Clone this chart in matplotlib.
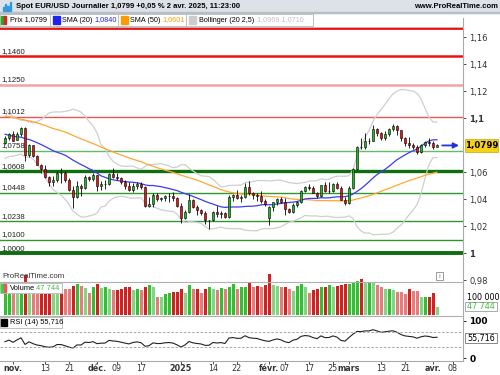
import numpy as np
import pandas as pd
import matplotlib
matplotlib.use("Agg")
import matplotlib.pyplot as plt
from matplotlib.patches import Rectangle

# closes before the visible window (needed for SMA 50 / Bollinger at the left edge)
prev_close = [1.1077, 1.1129, 1.1150, 1.1112, 1.1193, 1.1160, 1.1183, 1.1119, 1.1076, 1.1047,
              1.1073, 1.1045, 1.1088, 1.1111, 1.1083, 1.1026, 1.1018, 1.1011, 1.1075, 1.1075,
              1.1131, 1.1114, 1.1118, 1.1163, 1.1163, 1.1110, 1.1180, 1.1133, 1.1178, 1.1163, 1.1135,
              1.1068, 1.1045, 1.1032, 1.0975, 1.0975, 1.0978, 1.0940, 1.0935, 1.0937, 1.0910,
              1.0891, 1.0862, 1.0832, 1.0866, 1.0817, 1.0797, 1.0782, 1.0827, 1.0797, 1.0814, 1.0816]

# daily candles, 30 oct. 2024 -> 2 avr. 2025
opens = [1.0816, 1.0855, 1.0884, 1.0840, 1.0881, 1.0930, 1.0728, 1.0800, 1.0720, 1.0655,
         1.0623, 1.0565, 1.0530, 1.0540, 1.0597, 1.0596, 1.0543, 1.0472, 1.0417, 1.0495,
         1.0487, 1.0567, 1.0553, 1.0577, 1.0498, 1.0510, 1.0513, 1.0587, 1.0567, 1.0555,
         1.0527, 1.0496, 1.0467, 1.0500, 1.0513, 1.0489, 1.0352, 1.0363, 1.0430, 1.0405,
         1.0406, 1.0422, 1.0427, 1.0412, 1.0354, 1.0265, 1.0308, 1.0392, 1.0342, 1.0318,
         1.0300, 1.0243, 1.0245, 1.0307, 1.0292, 1.0300, 1.0272, 1.0418, 1.0432, 1.0410,
         1.0414, 1.0494, 1.0445, 1.0430, 1.0423, 1.0389, 1.0260, 1.0345, 1.0378, 1.0403,
         1.0380, 1.0328, 1.0306, 1.0361, 1.0383, 1.0464, 1.0491, 1.0482, 1.0446, 1.0421,
         1.0503, 1.0460, 1.0465, 1.0513, 1.0485, 1.0398, 1.0376, 1.0484, 1.0625, 1.0790,
         1.0785, 1.0833, 1.0833, 1.0919, 1.0889, 1.0852, 1.0882, 1.0922, 1.0945, 1.0910,
         1.0853, 1.0816, 1.0802, 1.0790, 1.0753, 1.0800, 1.0828, 1.0817, 1.0791]
highs = [1.0870, 1.0888, 1.0905, 1.0900, 1.0937, 1.0936, 1.0810, 1.0805, 1.0730, 1.0665,
         1.0653, 1.0575, 1.0570, 1.0608, 1.0630, 1.0610, 1.0555, 1.0496, 1.0533, 1.0515,
         1.0580, 1.0575, 1.0597, 1.0580, 1.0535, 1.0545, 1.0595, 1.0630, 1.0595, 1.0565,
         1.0540, 1.0530, 1.0520, 1.0525, 1.0530, 1.0500, 1.0415, 1.0445, 1.0445, 1.0418,
         1.0433, 1.0445, 1.0455, 1.0420, 1.0375, 1.0320, 1.0437, 1.0405, 1.0360, 1.0330,
         1.0315, 1.0250, 1.0315, 1.0350, 1.0310, 1.0305, 1.0435, 1.0440, 1.0470, 1.0430,
         1.0522, 1.0533, 1.0455, 1.0445, 1.0465, 1.0405, 1.0350, 1.0380, 1.0410, 1.0415,
         1.0410, 1.0335, 1.0372, 1.0390, 1.0470, 1.0500, 1.0510, 1.0495, 1.0455, 1.0505,
         1.0528, 1.0528, 1.0520, 1.0530, 1.0495, 1.0415, 1.0495, 1.0630, 1.0797, 1.0854,
         1.0888, 1.0855, 1.0947, 1.0930, 1.0895, 1.0905, 1.0930, 1.0955, 1.0950, 1.0915,
         1.0865, 1.0860, 1.0815, 1.0805, 1.0810, 1.0835, 1.0857, 1.0835, 1.0810]
lows = [1.0808, 1.0836, 1.0832, 1.0836, 1.0870, 1.0683, 1.0716, 1.0710, 1.0651, 1.0595,
        1.0560, 1.0497, 1.0500, 1.0525, 1.0523, 1.0525, 1.0462, 1.0335, 1.0413, 1.0424,
        1.0480, 1.0537, 1.0538, 1.0460, 1.0470, 1.0480, 1.0505, 1.0555, 1.0540, 1.0510,
        1.0480, 1.0460, 1.0457, 1.0480, 1.0475, 1.0343, 1.0343, 1.0345, 1.0390, 1.0385,
        1.0390, 1.0380, 1.0390, 1.0345, 1.0226, 1.0255, 1.0300, 1.0335, 1.0287, 1.0285,
        1.0215, 1.0178, 1.0240, 1.0270, 1.0262, 1.0265, 1.0265, 1.0385, 1.0400, 1.0380,
        1.0410, 1.0435, 1.0400, 1.0390, 1.0375, 1.0350, 1.0210, 1.0315, 1.0355, 1.0375,
        1.0285, 1.0300, 1.0300, 1.0345, 1.0375, 1.0455, 1.0470, 1.0445, 1.0410, 1.0415,
        1.0455, 1.0450, 1.0455, 1.0480, 1.0395, 1.0360, 1.0365, 1.0478, 1.0615, 1.0775,
        1.0775, 1.0810, 1.0830, 1.0870, 1.0840, 1.0840, 1.0870, 1.0905, 1.0880, 1.0830,
        1.0795, 1.0780, 1.0770, 1.0733, 1.0740, 1.0790, 1.0795, 1.0775, 1.0785]
closes = [1.0855, 1.0884, 1.0834, 1.0881, 1.0930, 1.0728, 1.0800, 1.0720, 1.0655, 1.0623,
          1.0565, 1.0530, 1.0540, 1.0597, 1.0596, 1.0543, 1.0472, 1.0417, 1.0495, 1.0487,
          1.0567, 1.0553, 1.0577, 1.0498, 1.0510, 1.0513, 1.0587, 1.0567, 1.0555, 1.0527,
          1.0496, 1.0467, 1.0500, 1.0513, 1.0489, 1.0352, 1.0363, 1.0430, 1.0405, 1.0406,
          1.0422, 1.0427, 1.0412, 1.0354, 1.0265, 1.0308, 1.0392, 1.0342, 1.0318, 1.0300,
          1.0243, 1.0245, 1.0307, 1.0292, 1.0300, 1.0272, 1.0418, 1.0432, 1.0410, 1.0414,
          1.0494, 1.0445, 1.0430, 1.0423, 1.0389, 1.0362, 1.0345, 1.0378, 1.0403, 1.0380,
          1.0328, 1.0306, 1.0361, 1.0383, 1.0464, 1.0491, 1.0482, 1.0446, 1.0421, 1.0503,
          1.0460, 1.0465, 1.0513, 1.0485, 1.0398, 1.0376, 1.0484, 1.0625, 1.0790, 1.0785,
          1.0833, 1.0833, 1.0919, 1.0889, 1.0852, 1.0882, 1.0922, 1.0945, 1.0910, 1.0853,
          1.0816, 1.0802, 1.0790, 1.0753, 1.0800, 1.0828, 1.0817, 1.0791, 1.0799]
volumes = [150000, 160000, 150000, 140000, 170000, 230000, 190000, 160000, 140000, 150000,
           165000, 170000, 160000, 150000, 155000, 150000, 149000, 166000, 177000, 166000,
           153000, 127000, 162000, 177000, 153000, 158000, 149000, 143000, 143000, 149000,
           162000, 162000, 143000, 149000, 143000, 158000, 171000, 162000, 105000, 101000,
           118000, 124000, 130000, 130000, 149000, 127000, 171000, 149000, 149000, 124000,
           147000, 162000, 147000, 143000, 153000, 147000, 158000, 177000, 149000, 158000,
           158000, 185000, 158000, 166000, 158000, 171000, 234000, 171000, 166000, 158000,
           158000, 147000, 139000, 166000, 177000, 158000, 124000, 143000, 147000, 158000,
           158000, 171000, 162000, 168000, 171000, 177000, 177000, 190000, 196000, 206000,
           187000, 187000, 181000, 171000, 162000, 149000, 149000, 143000, 133000, 130000,
           120000, 147000, 139000, 137000, 101000, 101000, 101000, 124000, 47744]

# horizontal support / resistance levels
level_values = [1.1670, 1.1460, 1.1250, 1.1012, 1.0758, 1.0608, 1.0448, 1.0238, 1.0100, 1.0000]
level_labels = ["", "1,1460", "1,1250", "1,1012", "1,0758", "1,0608", "1,0448", "1,0238", "1,0100", "1,0000"]
level_colors = ["#ee1111", "#ee1111", "#f4a3a3", "#ee5555", "#66bb66", "#0d6e0d",
                "#2f962f", "#2f962f", "#2f962f", "#0d6e0d"]
level_widths = [2.0, 1.8, 1.8, 1.0, 1.0, 2.4, 1.0, 1.0, 1.0, 2.8]

price_ticks = [1.16, 1.14, 1.12, 1.10, 1.06, 1.04, 1.02, 1.00, 0.98]
price_tick_labels = ["1,16", "1,14", "1,12", "1,1", "1,06", "1,04", "1,02", "1", "0,98"]

date_pos = [2, 10, 16, 23, 28, 34, 44, 52, 58, 66, 70, 76, 82, 86, 94, 100, 107, 112]
date_labels = ["nov.", "13", "21", "déc.", "09", "17", "2025", "14", "22",
               "févr.", "07", "17", "25", "mars", "13", "21", "avr.", "08"]
month_labels = ["nov.", "déc.", "2025", "févr.", "mars", "avr."]

W, H = 500, 375
LEG = "Liberation Sans"


def frame(x0, y0, x1, y1):
    return [x0 / W, 1 - y1 / H, (x1 - x0) / W, (y1 - y0) / H]


def px(x, y):
    return x / W, 1 - y / H


o = np.array(opens)
hi = np.array(highs)
lo = np.array(lows)
c = np.array(closes)
n = len(c)
idx = np.arange(n)

allc = pd.Series(prev_close + closes)
sma20 = allc.rolling(20).mean().values[-n:]
sma50 = allc.rolling(50).mean().values[-n:]
std20 = allc.rolling(20).std(ddof=0).values[-n:]
bb_up = sma20 + 2.5 * std20
bb_dn = sma20 - 2.5 * std20

delta = allc.diff()
gain = delta.clip(lower=0).ewm(alpha=1 / 14, adjust=False).mean()
loss = (-delta.clip(upper=0)).ewm(alpha=1 / 14, adjust=False).mean()
rsi = (100 - 100 / (1 + gain / loss)).values[-n:]

fig = plt.figure(figsize=(5, 3.75), dpi=100)
plt.rcParams['font.family'] = 'DejaVu Sans'

# header bar
fig.patches.append(Rectangle(px(0, 13), 1, 13 / H, transform=fig.transFigure, color="#dde2e8", zorder=0))
fig.patches.append(Rectangle(px(0, 13), 1, 1 / H, transform=fig.transFigure, color="#b8bec6", zorder=0))
fig.text(*px(16, 7), "Spot EUR/USD Journalier 1,0799 +0,05 % 2 avr. 2025, 11:23:00",
         fontsize=5.5, fontweight="bold", va="center", ha="left", family=LEG)
fig.text(*px(498, 7), "www.ProRealTime.com", fontsize=5.5, fontweight="bold", va="center", ha="right",
         family=LEG)
for k, hh in enumerate([4, 7, 5, 9]):
    fig.patches.append(Rectangle(px(3 + k * 2.2, 11), 1.2 / W, hh / H, transform=fig.transFigure,
                                 color="#3399dd", zorder=1))

xlim = (-1.25, 114.5)

# price panel
ax = fig.add_axes(frame(0, 18, 463, 315))
ax.set_xlim(*xlim)
p_top = 1 + (253.3 - 18) / 1350
p_bot = 1 + (253.3 - 315) / 1350
ax.set_ylim(p_bot, p_top)

for v, lab, col, lw in zip(level_values, level_labels, level_colors, level_widths):
    ax.axhline(v, color=col, lw=lw, zorder=1)
    if lab:
        ax.text(-0.9, v + 0.0012, lab, fontsize=5.6, va="bottom", ha="left", color="#222222",
                family=LEG, zorder=6)

ax.plot(idx, bb_up, color="#cfcfcf", lw=0.9, zorder=2)
ax.plot(idx, bb_dn, color="#cfcfcf", lw=0.9, zorder=2)
ax.plot(idx, sma50, color="#ffa733", lw=0.9, zorder=3)
ax.plot(idx, sma20, color="#3b3bf5", lw=0.9, zorder=3)

up = c >= o
ax.vlines(idx, lo, hi, color="black", lw=0.6, zorder=4)
body_h = np.maximum(np.abs(c - o), 0.00025)
ax.bar(idx, body_h, bottom=np.minimum(o, c), width=0.66,
       color=np.where(up, "#22b822", "#e01818"), edgecolor="black", linewidth=0.4, zorder=5)

ax.annotate("", xy=(114.2, closes[-1]), xytext=(108.6, closes[-1]),
            arrowprops=dict(arrowstyle="-|>", color="#2233dd", lw=1.3, mutation_scale=8), zorder=6)

ax.yaxis.tick_right()
ax.set_yticks(price_ticks)
ax.set_yticklabels(price_tick_labels, fontsize=6)
for t in ax.get_yticklabels():
    if t.get_text() in ("1,1", "1"):
        t.set_fontweight("bold")
ax.tick_params(axis="y", length=2.5, width=0.6, pad=2, colors="#333333")
ax.set_xticks([])
for s in ["top", "left", "bottom"]:
    ax.spines[s].set_visible(False)
ax.spines["right"].set_color("#aaaaaa")
ax.spines["right"].set_linewidth(0.8)
ax.patch.set_alpha(0)

# volume overlay
axv = fig.add_axes(frame(0, 265, 463, 315))
axv.set_xlim(*xlim)
axv.set_ylim(0, 50 / 17.5 * 100000)
vol_up = np.r_[True, c[1:] >= c[:-1]]
vol_more = np.r_[True, np.array(volumes[1:]) >= np.array(volumes[:-1])]
vcol = np.where(vol_up, np.where(vol_more, "#2fc12f", "#7fd87f"), np.where(vol_more, "#d52020", "#ea7b7b"))
axv.bar(idx, volumes, width=0.75, color=vcol, zorder=2)
axv.axis("off")
axv.patch.set_alpha(0)

# RSI panel
axr = fig.add_axes(frame(0, 316, 463, 361))
axr.set_xlim(*xlim)
axr.set_ylim(-(361 - 358) / 0.373, 100 + (320.7 - 316) / 0.373)
axr.plot(idx, rsi, color="#222222", lw=0.8)
axr.axhline(70, color="#999999", lw=0.6, ls=(0, (3, 2)))
axr.axhline(30, color="#999999", lw=0.6, ls=(0, (3, 2)))
axr.yaxis.tick_right()
axr.set_yticks([100, 0])
axr.set_yticklabels(["100", "0"], fontsize=6.5, fontweight="bold")
axr.tick_params(axis="y", length=2.5, width=0.6, pad=2)
axr.set_xticks(date_pos)
axr.set_xticklabels(date_labels, fontsize=5.8)
for t in axr.get_xticklabels():
    if t.get_text() in month_labels:
        t.set_fontweight("bold")
axr.tick_params(axis="x", length=2, width=0.6, pad=0.5, colors="#333333")
for s in ["top", "left"]:
    axr.spines[s].set_visible(False)
axr.spines["right"].set_color("#aaaaaa")
axr.spines["bottom"].set_color("#aaaaaa")
axr.patch.set_alpha(0)

# separators
for yy in (282, 316):
    fig.add_artist(plt.Line2D([0, 463 / W], [1 - yy / H] * 2, color="#b0b0b0", lw=0.8))
fig.add_artist(plt.Line2D([0, 463 / W], [1 - 27 / H] * 2, color="#c8c8c8", lw=0.6))


def box(x0, y0, x1, y1, fc="white", ec="#c0c0c0"):
    fig.patches.append(Rectangle(px(x0, y1), (x1 - x0) / W, (y1 - y0) / H, transform=fig.transFigure,
                                 facecolor=fc, edgecolor=ec, lw=0.7, zorder=5))


def square(x, y, w, h, col):
    fig.patches.append(Rectangle(px(x, y + h), w / W, h / H, transform=fig.transFigure, color=col, zorder=6))


def label(x, y, s, col="black", size=5.2, **kw):
    fig.text(*px(x, y), s, fontsize=size, va="center", color=col, family=LEG, zorder=7, **kw)


# legend row
box(0, 14, 50, 26)
square(1, 16, 2.5, 8, "#22aa22")
square(3.5, 16, 2.5, 8, "#dd2222")
label(10, 20, "Prix 1,0799")
box(50, 14, 118, 26)
square(53, 16.5, 7, 7, "#2222ee")
label(62, 20, "SMA (20)")
label(94, 20, "1,0840", "#2222ee")
box(118, 14, 186, 26)
square(121, 16.5, 7, 7, "#ff9900")
label(130, 20, "SMA (50)")
label(162, 20, "1,0601", "#ff9900")
box(186, 14, 313, 26)
square(189, 16.5, 7, 7, "#cccccc")
label(199, 20, "Bollinger (20 2,5)")
label(257, 20, "1,0969 1,0710", "#c0c0c0")

# current price tag
fig.patches.append(Rectangle(px(465, 152), 33 / W, 13 / H, transform=fig.transFigure,
                             facecolor="#f7d117", edgecolor="#c9a800", lw=0.5, zorder=6))
fig.text(*px(481.5, 145.5), "1,0799", fontsize=6.2, fontweight="bold", ha="center", va="center", zorder=7)

# volume texts
label(2, 277, "ProRealTime.com", "#333333", size=5.6)
box(436, 272, 443, 280, ec="#999999")
fig.text(*px(439.5, 276), "i", fontsize=4.5, ha="center", va="center", color="#666666", zorder=7)
box(0, 283, 62, 293)
square(1, 284, 2.5, 8, "#44cc44")
square(3.5, 284, 2.5, 8, "#ee5555")
label(10, 288, "Volume", size=5.4)
label(36, 288, "47 744", "#44bb44", size=5.4)
fig.text(*px(467, 297), "100 000", fontsize=5.8, va="center")
box(465, 302, 497, 311, ec="#aaaaaa")
fig.text(*px(481, 306.5), "47 744", fontsize=5.8, ha="center", va="center", color="#44bb44", zorder=7)

# RSI texts
box(0, 317, 62, 328)
square(1, 319, 6, 7, "black")
label(10, 322.5, "RSI (14) 55,716", size=5.4)
box(465, 333, 497, 343, ec="#888888")
fig.text(*px(481, 338), "55,716", fontsize=5.8, ha="center", va="center", zorder=7)

fig.savefig("out.png", dpi=100)
